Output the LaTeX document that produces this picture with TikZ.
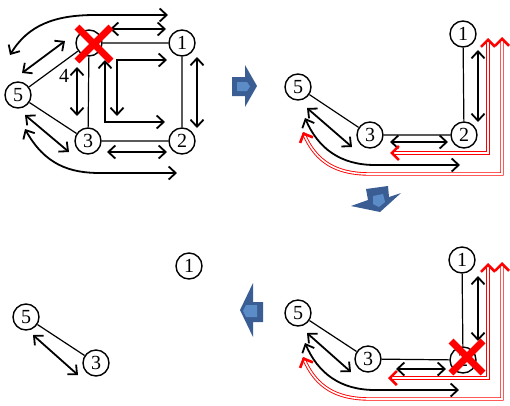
\documentclass[tikz,border=0pt]{standalone}
\usepackage{fontspec}
\setmainfont{Liberation Serif}
\usetikzlibrary{arrows.meta,calc}
\definecolor{blueD}{RGB}{58,94,148}
\definecolor{blueL}{RGB}{92,140,200}
\definecolor{xred}{RGB}{255,0,0}
\tikzset{
  vtx/.style={circle,draw,line width=1.4pt,minimum size=26pt,inner sep=0pt,
              font=\fontsize{20}{20}\selectfont},
  lbl/.style={inner sep=0pt,font=\fontsize{20}{20}\selectfont},
  edge/.style={line width=1.2pt},
  barb/.tip={Straight Barb[length=7pt,width=13pt]},
  rbarb/.tip={Straight Barb[length=7pt,width=14pt]},
  dbl/.style={line width=1.8pt,barb-barb},
  rdbl/.style={draw=xred,line width=0.9pt,double=white,double distance=1.6pt,
               shorten <=2pt,shorten >=2pt},
  rtip/.style={draw=xred,line width=2.6pt,-rbarb},
  cross/.style={draw=xred,line width=7pt},
  bigarrow/.style={fill=blueD,draw=none},
  bigarrowin/.style={fill=blueL,draw=none},
}
\begin{document}
\begin{tikzpicture}[x=1pt,y=-1pt]
\useasboundingbox (0,0) rectangle (510,405);

% ---------- first network: node 4 fails ----------
\node[vtx] (a1) at (182,43) {1};
\node[vtx] (a2) at (182,141) {2};
\node[vtx] (a3) at (88,141) {3};
\node[vtx] (a4) at (89,43) {};
\node[vtx] (a5) at (18,95) {5};
\node[lbl] (l4) at (64,76) {4};
\draw[edge] (a4) -- (a1) (a1) -- (a2) (a3) -- (a2) (a4) -- (a3) (a5) -- (a4) (a5) -- (a3);

\coordinate (at1) at (10,55);   \coordinate (at2) at (168,15);
\coordinate (as1) at (110,29);  \coordinate (as2) at (166,29);
\coordinate (ad1) at (22,73);   \coordinate (ad2) at (65,41);
\coordinate (av1) at (77,67);   \coordinate (av2) at (77,116);
\coordinate (al1) at (105,60);  \coordinate (al2) at (165,122);
\coordinate (am1) at (117,116); \coordinate (am2) at (167,60);
\coordinate (ar1) at (197,57);  \coordinate (ar2) at (197,128);
\coordinate (ah1) at (107,152); \coordinate (ah2) at (167,152);
\coordinate (ae1) at (25,115);  \coordinate (ae2) at (69,152);
\coordinate (ab1) at (25,129);  \coordinate (ab2) at (177,173);

\draw[dbl] (at1) .. controls (28,25) and (55,15) .. (95,15) -- (at2);
\draw[dbl] (as1) -- (as2);
\draw[dbl] (ad1) -- (ad2);
\draw[dbl] (av1) -- (av2);
\draw[dbl] (al1) -- (al1 |- al2) -- (al2);
\draw[dbl] (am1) -- (am1 |- am2) -- (am2);
\draw[dbl] (ar1) -- (ar2);
\draw[dbl] (ah1) -- (ah2);
\draw[dbl] (ae1) -- (ae2);
\draw[dbl] (ab1) .. controls (45,165) and (70,173) .. (100,173) -- (ab2);

\draw[cross] (77,27) -- (111,61) (111,27) -- (77,61);

% ---------- arrow to the right ----------
\fill[bigarrow] (232,77) -- (245,77) -- (245,65) -- (257,86) -- (245,107) -- (245,96) -- (232,96) -- cycle;
\fill[bigarrowin] (237,82) -- (247,82) -- (250,86.5) -- (247,91) -- (237,91) -- cycle;

% ---------- second network: rerouted paths ----------
\node[vtx] (b1) at (463,34) {1};
\node[vtx] (b2) at (464,135) {2};
\node[vtx] (b3) at (370,135) {3};
\node[vtx] (b5) at (298,87) {5};
\draw[edge] (b1) -- (b2) (b3) -- (b2) (b5) -- (b3);

\coordinate (bv1) at (478,50);  \coordinate (bv2) at (478,122);
\coordinate (bh1) at (390,142); \coordinate (bh2) at (448,142);
\coordinate (bd1) at (307,108); \coordinate (bd2) at (352,147);
\coordinate (bc1) at (305,118); \coordinate (bc2) at (460,165);
\coordinate (br1) at (390,153); \coordinate (br2) at (488,38);
\coordinate (bs1) at (303,132); \coordinate (bs2) at (502,37);

\draw[dbl] (bv1) -- (bv2);
\draw[dbl] (bh1) -- (bh2);
\draw[dbl] (bd1) -- (bd2);
\draw[dbl] (bc1) .. controls (318,148) and (340,165) .. (375,165) -- (bc2);
\draw[rdbl] (br1) -- (br2 |- br1) -- (br2);
\draw[rdbl] (bs1) .. controls (316,162) and (336,174) .. (370,174) -- (502,174) -- (bs2);
\draw[rtip] ($(br1)+(1,0)$) -- (br1);
\draw[rtip] ($(br2)+(0,1)$) -- (br2);
\draw[rtip] ($(bs1)!1pt!(316,162)$) -- (bs1);
\draw[rtip] ($(bs2)+(0,1)$) -- (bs2);

% ---------- arrow downwards ----------
\fill[bigarrow] (366,189) -- (388,186) -- (389,197) -- (401,193) -- (380,212) -- (351,206) -- (368,200) -- cycle;
\fill[bigarrowin] (373,196) -- (383,194) -- (385,202) -- (379,207) -- (373,204) -- cycle;

% ---------- third network: node 2 fails ----------
\node[vtx] (c1) at (462,260) {1};
\node[vtx] (c2) at (463,360) {2};
\node[vtx] (c3) at (368,359) {3};
\node[vtx] (c5) at (298,313) {5};
\draw[edge] (c1) -- (c2) (c3) -- (c2) (c5) -- (c3);

\coordinate (cv1) at (478,276); \coordinate (cv2) at (478,341);
\coordinate (ch1) at (396,369); \coordinate (ch2) at (446,369);
\coordinate (cd1) at (307,333); \coordinate (cd2) at (351,372);
\coordinate (cc1) at (305,343); \coordinate (cc2) at (459,390);
\coordinate (cr1) at (388,378); \coordinate (cr2) at (488,263);
\coordinate (cs1) at (303,357); \coordinate (cs2) at (502,262);

\draw[dbl] (cv1) -- (cv2);
\draw[dbl] (ch1) -- (ch2);
\draw[dbl] (cd1) -- (cd2);
\draw[dbl] (cc1) .. controls (318,373) and (340,390) .. (375,390) -- (cc2);
\draw[rdbl] (cr1) -- (cr2 |- cr1) -- (cr2);
\draw[rdbl] (cs1) .. controls (316,387) and (336,399) .. (370,399) -- (502,399) -- (cs2);
\draw[rtip] ($(cr1)+(1,0)$) -- (cr1);
\draw[rtip] ($(cr2)+(0,1)$) -- (cr2);
\draw[rtip] ($(cs1)!1pt!(316,387)$) -- (cs1);
\draw[rtip] ($(cs2)+(0,1)$) -- (cs2);

\draw[cross] (451,341) -- (483,373) (483,341) -- (451,373);

% ---------- arrow to the left ----------
\fill[bigarrow] (263,302) -- (253,302) -- (253,283) -- (240,310) -- (253,337) -- (253,322) -- (263,322) -- cycle;
\fill[bigarrowin] (257,305) -- (246,305) -- (243,311) -- (246,317) -- (257,317) -- cycle;

% ---------- remaining network ----------
\node[vtx] (d1) at (189,266) {1};
\node[vtx] (d5) at (26,317) {5};
\node[vtx] (d3) at (96,363) {3};
\draw[edge] (d5) -- (d3);
\coordinate (dd1) at (33,335); \coordinate (dd2) at (78,375);
\draw[dbl] (dd1) -- (dd2);
\end{tikzpicture}
\end{document}
